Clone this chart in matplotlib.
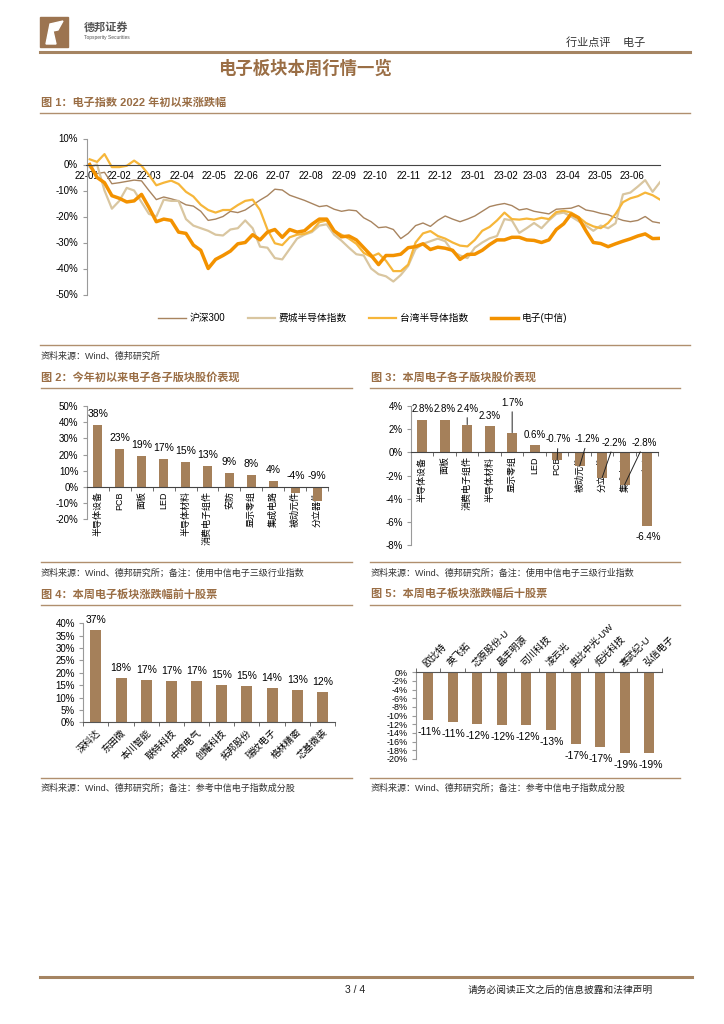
import numpy as np
import pandas as pd
import matplotlib
matplotlib.use("Agg")
import matplotlib.pyplot as plt
from matplotlib.lines import Line2D
from matplotlib.patches import Rectangle, Polygon
from matplotlib.ticker import FuncFormatter

plt.rcParams["font.family"] = ["Liberation Sans", "Noto Sans CJK SC"]
plt.rcParams["axes.unicode_minus"] = False

W, H = 724, 1024
BAR = "#A5805A"
TITLE = "#9A6E45"
RULE = "#B08F6E"
SPINE = "#9A9A9A"

# ---------------- data ----------------
# fig 1: weekly closes, % change since start of 2022
dates = pd.date_range("2022-01-04", periods=78, freq="7D")
hs300 = [-1, -3.5, -3, -7.4, -7, -6.5, -6, -6.3, -10, -13.5, -12.5, -13.2, -14, -15.5,
         -16, -18, -21.5, -21, -20, -18, -18.5, -17.5, -15.6, -13.7, -12, -9.5, -9.8,
         -11.8, -12.8, -13.8, -15, -16.2, -15.8, -17.2, -18, -17.5, -17.8, -20.5, -22,
         -24.3, -24, -25, -28.5, -26.5, -23.5, -22.5, -23.8, -21.5, -19.8, -21, -22, -21,
         -19.8, -18, -16.2, -15.5, -15, -15.8, -17.5, -17, -18, -18.5, -19, -17.2, -17,
         -16.8, -15.8, -17.5, -18, -18.8, -19.3, -20.5, -21.5, -22, -21.5, -20, -22, -22.5]
sox = [-1, 0, -10, -17, -14, -9, -10, -14.5, -19, -20, -13.5, -14, -14, -21, -23.5,
       -24.5, -25.5, -27, -27.3, -25, -24.5, -21.5, -24.5, -31.6, -32, -36, -36.5, -32.5,
       -28.5, -27, -26, -23.5, -23, -27, -29.3, -32, -34.5, -35, -40, -42.2, -43, -45,
       -42.5, -39, -32.5, -30.5, -29.5, -28.5, -29.5, -33.5, -35, -36, -32, -30, -28.4,
       -27.5, -21, -21.5, -26.3, -24.5, -22.5, -24.5, -21.5, -19, -18.5, -20, -21.8, -23.5,
       -25.5, -23.5, -24.5, -22.6, -11.5, -10.8, -8.5, -6, -10.5, -6.8]
tw_semi = [2, 1, 4, -1, -1, -0.5, 1.5, -0.5, -4, -8, -7, -6.2, -7.5, -10.5, -12.3, -15.5,
           -17.5, -18.5, -17.5, -17.5, -15.6, -14, -13.5, -17.5, -25, -30.3, -31, -28, -27,
           -26.7, -25.5, -22.2, -21.5, -25.5, -27, -28.5, -30.5, -34, -35.5, -34.2, -37, -41,
           -41, -38.5, -30, -26.5, -25.6, -27.5, -28.5, -30, -31.2, -31.5, -29, -25.5, -24,
           -21.5, -18.5, -21, -21.2, -20.8, -21.2, -20.5, -21, -18.3, -17.8, -18.5, -20.2,
           -22.5, -23.8, -24.5, -22.5, -19, -14.5, -13, -12.2, -10.8, -11.8, -13.5]
elec = [0, -5, -7, -12, -13, -14.4, -14, -11.5, -16.5, -22, -21, -21.5, -26, -26.5, -31,
        -33, -40, -36.5, -35, -33.3, -30.5, -30, -27, -29, -26, -25, -28, -25, -26, -25.5,
        -23, -21, -21, -25.5, -27.8, -27.5, -29, -32, -35, -38.5, -35, -35, -34.5, -32,
        -31.6, -30.5, -32.7, -31.8, -32.2, -33, -36.5, -34.6, -34.5, -33, -30.8, -29, -29,
        -28, -28, -29, -29.2, -30, -29, -25, -22.8, -19, -20.5, -25.5, -30, -30.4, -31.6,
        -30.5, -29.5, -28.6, -27.5, -26.7, -28.5, -28.4]

# fig 2: YTD sub-sectors
f2_names = ["半导体设备", "PCB", "面板", "LED", "半导体材料", "消费电子组件", "安防",
            "显示零组", "集成电路", "被动元件", "分立器件"]
f2_vals = [38.4, 23.4, 18.9, 17.3, 15.4, 13.0, 8.8, 7.6, 3.9, -3.9, -8.9]

# fig 3: this week sub-sectors
f3_names = ["半导体设备", "面板", "消费电子组件", "半导体材料", "显示零组", "LED", "PCB",
            "被动元件", "分立器件", "集成电路", "安防"]
f3_vals = [2.8, 2.8, 2.4, 2.3, 1.7, 0.6, -0.7, -1.2, -2.2, -2.8, -6.4]

# fig 4: top 10 stocks
f4_names = ["深科达", "东田微", "本川智能", "联特科技", "中熔电气", "创耀科技", "拓邦股份",
            "瑞纹电子", "格林精密", "芯基微装"]
f4_vals = [37.4, 17.7, 16.9, 16.6, 16.6, 15.2, 14.7, 13.7, 13.0, 12.3]

# fig 5: bottom 10 stocks
f5_names = ["欧比特", "英飞拓", "芯原股份-U", "晶丰明源", "可川科技", "凌云光", "奥比中光-UW",
            "炬光科技", "寒武纪-U", "弘信电子"]
f5_vals = [-11.1, -11.4, -11.9, -12.1, -12.2, -13.4, -16.6, -17.2, -18.6, -18.7]

fig = plt.figure(figsize=(W / 100, H / 100), dpi=100)


def box(x0, y0, x1, y1):
    return [x0 / W, 1 - y1 / H, (x1 - x0) / W, (y1 - y0) / H]


def ftext(x, y, s, **kw):
    kw.setdefault("va", "center")
    fig.text(x / W, 1 - y / H, s, **kw)


def hline(y, x0, x1, lw=1.0, color=RULE):
    fig.add_artist(Line2D([x0 / W, x1 / W], [1 - y / H] * 2, lw=lw, color=color,
                          transform=fig.transFigure))


pct = FuncFormatter(lambda v, p: f"{v:.0f}%")

# ---------------- page header / footer ----------------
fig.add_artist(Rectangle((40 / W, 1 - 47 / H), 28 / W, 30 / H, color="#9C7450",
                         transform=fig.transFigure))
fig.add_artist(Polygon([(46 / W, 1 - 44 / H), (50 / W, 1 - 24 / H), (63 / W, 1 - 21 / H),
                        (58 / W, 1 - 30 / H), (53 / W, 1 - 31 / H), (56 / W, 1 - 44 / H)],
                       color="white", transform=fig.transFigure))
ftext(84, 27, "德邦证券", fontsize=8, fontweight="bold", color="#555555")
ftext(84, 37, "Topsperity Securities", fontsize=3.5, color="#555555")
ftext(566, 43, "行业点评    电子", fontsize=8, color="#333333")
hline(52, 40, 690, lw=2.2, color="#A58462")
ftext(305, 68, "电子板块本周行情一览", fontsize=12.5, fontweight="bold", color=TITLE, ha="center")

hline(977, 40, 692, lw=2.2, color="#A58462")
ftext(355, 990, "3 / 4", fontsize=7.5, ha="center", color="#222222")
ftext(468, 990, "请务必阅读正文之后的信息披露和法律声明", fontsize=7, color="#222222")

# ---------------- fig 1 ----------------
ftext(41, 103, "图 1：电子指数 2022 年初以来涨跌幅", fontsize=8, fontweight="bold", color=TITLE)
hline(113, 40, 690)
ax1 = fig.add_axes(box(86.5, 138.5, 660, 294.5))
ax1.plot(dates, hs300, color="#A8845F", lw=1.0, label="沪深300")
ax1.plot(dates, sox, color="#D9C6A0", lw=1.6, label="费城半导体指数")
ax1.plot(dates, tw_semi, color="#F6B63A", lw=1.6, label="台湾半导体指数")
ax1.plot(dates, elec, color="#F39200", lw=2.5, label="电子(中信)")
ax1.set_xlim(pd.Timestamp("2022-01-01"), pd.Timestamp("2023-06-27"))
ax1.set_ylim(-50, 10)
ax1.spines[["top", "right"]].set_visible(False)
ax1.spines["bottom"].set_position(("data", 0))
ax1.spines["bottom"].set_color("#444444")
ax1.spines["left"].set_color(SPINE)
months = pd.date_range("2022-01-01", "2023-06-01", freq="MS")
ax1.set_xticks(months)
ax1.set_xticklabels([d.strftime("%y-%m") for d in months])
ax1.tick_params(axis="x", length=0, pad=5, labelsize=7)
ax1.set_yticks(range(-50, 11, 10))
ax1.yaxis.set_major_formatter(pct)
ax1.tick_params(axis="y", length=3, color=SPINE, labelsize=7, pad=3)
fig.legend(handles=ax1.get_lines(), loc="center", bbox_to_anchor=(363 / W, 1 - 318 / H),
           ncol=4, frameon=False, fontsize=7, handlelength=2.8, columnspacing=2.3,
           handletextpad=0.4)
hline(345, 40, 690)
ftext(41, 356, "资料来源：Wind、德邦研究所", fontsize=6.5, color="#333333")


def bar_axes(rect, names, vals, ylim, yticks, width):
    ax = fig.add_axes(rect)
    x = np.arange(len(vals))
    ax.bar(x, vals, width=width, color=BAR, zorder=2)
    ax.set_xlim(-0.5, len(vals) - 0.5)
    ax.set_ylim(*ylim)
    ax.spines[["top", "right"]].set_visible(False)
    ax.spines["left"].set_color(SPINE)
    ax.set_yticks(yticks)
    ax.yaxis.set_major_formatter(pct)
    ax.tick_params(axis="y", length=3, color=SPINE, labelsize=7, pad=3)
    ax.set_xticks(x)
    ax.set_xticks(np.arange(len(vals) + 1) - 0.5, minor=True)
    ax.tick_params(axis="x", which="major", length=0)
    ax.tick_params(axis="x", which="minor", length=3, color="#555555")
    return ax, x


# ---------------- fig 2 ----------------
ftext(41, 377, "图 2：今年初以来电子各子版块股价表现", fontsize=8, fontweight="bold", color=TITLE)
hline(388, 41, 352)
ax2, x2 = bar_axes(box(86.7, 406, 328.3, 519.3), f2_names, f2_vals, (-20, 50),
                   range(-20, 51, 10), 0.42)
ax2.spines["bottom"].set_position(("data", 0))
ax2.spines["bottom"].set_color("#444444")
ax2.set_xticklabels(f2_names, rotation=90, fontsize=6.5)
ax2.tick_params(axis="x", which="major", pad=3)
for xi, v in zip(x2, f2_vals):
    ax2.annotate(f"{v:.0f}%", (xi, max(v, 0)), xytext=(0, 11), textcoords="offset pixels",
                 ha="center", va="center", fontsize=7.5)
hline(562, 41, 352)
ftext(41, 573, "资料来源：Wind、德邦研究所；备注：使用中信电子三级行业指数", fontsize=6.5,
      color="#333333")

# ---------------- fig 3 ----------------
ftext(371, 377, "图 3：本周电子各子版块股价表现", fontsize=8, fontweight="bold", color=TITLE)
hline(388, 370, 680)
ax3, x3 = bar_axes(box(411, 406, 658.3, 545), f3_names, f3_vals, (-8, 4),
                   range(-8, 5, 2), 0.45)
ax3.spines["bottom"].set_position(("data", 0))
ax3.spines["bottom"].set_color("#444444")
ax3.set_xticklabels(f3_names, rotation=90, fontsize=6.5)
ax3.tick_params(axis="x", which="major", pad=3)
f3_off = [(0, 11), (0, 11), (0, 16), (0, 10), (0, 30), (0, 10), (1, 21), (8, 27),
          (12, 35), (20, 42), (1, -11)]
f3_leader = [False, False, True, False, True, False, True, True, True, True, False]
for xi, v, off, lead in zip(x3, f3_vals, f3_off, f3_leader):
    arrow = dict(arrowstyle="-", color="#222222", lw=0.7, shrinkA=1, shrinkB=0) if lead else None
    ax3.annotate(f"{v:.1f}%", (xi, v), xytext=off, textcoords="offset pixels",
                 ha="center", va="center", fontsize=7, arrowprops=arrow)
hline(562, 370, 680)
ftext(371, 573, "资料来源：Wind、德邦研究所；备注：使用中信电子三级行业指数", fontsize=6.5,
      color="#333333")

# ---------------- fig 4 ----------------
ftext(41, 594, "图 4：本周电子板块涨跌幅前十股票", fontsize=8, fontweight="bold", color=TITLE)
hline(605, 41, 352)
ax4, x4 = bar_axes(box(83.3, 623.3, 335, 722.3), f4_names, f4_vals, (0, 40),
                   range(0, 41, 5), 0.44)
ax4.spines["bottom"].set_color("#555555")
ax4.set_xticklabels(f4_names, rotation=45, ha="right", va="top", rotation_mode="anchor",
                    fontsize=6.8)
ax4.tick_params(axis="x", which="major", pad=4)
for xi, v in zip(x4, f4_vals):
    ax4.annotate(f"{v:.0f}%", (xi, v), xytext=(0, 10), textcoords="offset pixels",
                 ha="center", va="center", fontsize=7.5)
hline(778, 41, 352)
ftext(41, 788, "资料来源：Wind、德邦研究所；备注：参考中信电子指数成分股", fontsize=6.5,
      color="#333333")

# ---------------- fig 5 ----------------
ftext(371, 594, "图 5：本周电子板块涨跌幅后十股票", fontsize=8, fontweight="bold", color=TITLE)
hline(605, 370, 680)
ax5, x5 = bar_axes(box(415.7, 672.3, 661.7, 759), f5_names, f5_vals, (-20, 0),
                   range(-20, 1, 2), 0.41)
ax5.spines["bottom"].set_visible(False)
ax5.spines["top"].set_visible(True)
ax5.spines["top"].set_color("#555555")
ax5.xaxis.set_ticks_position("top")
ax5.set_xticklabels(f5_names, rotation=45, ha="left", va="bottom", rotation_mode="anchor",
                    fontsize=6.8)
ax5.tick_params(axis="x", which="major", pad=3)
ax5.tick_params(axis="y", labelsize=6.5)
for xi, v in zip(x5, f5_vals):
    ax5.annotate(f"{v:.0f}%", (xi, v), xytext=(1, -12), textcoords="offset pixels",
                 ha="center", va="center", fontsize=7.5)
hline(778, 370, 680)
ftext(371, 788, "资料来源：Wind、德邦研究所；备注：参考中信电子指数成分股", fontsize=6.5,
      color="#333333")

fig.savefig("out.png", dpi=100, facecolor="white")
